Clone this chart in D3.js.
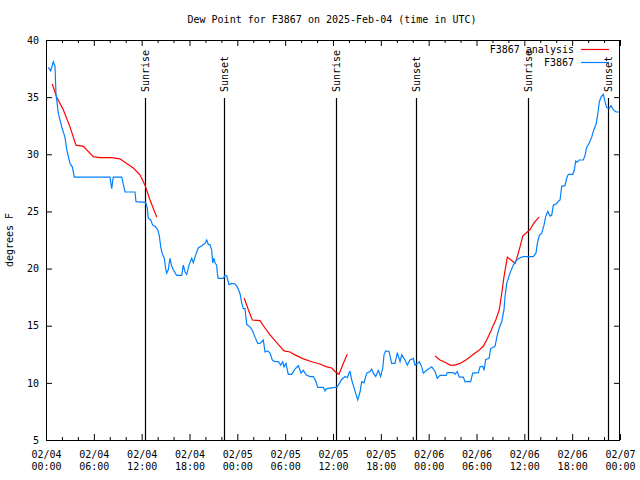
<!DOCTYPE html>
<html><head><meta charset="utf-8">
<script src="https://cdn.jsdelivr.net/npm/d3@7"></script>
<style>body{margin:0;background:#fff}svg{display:block}</style>
</head><body><svg id="c" width="640" height="480"></svg>
<script>
// hours after 2025-02-04 00:00 UTC
const obsHours = [0.29,0.59,0.92,1.13,1.25,1.54,1.97,2.38,2.6,3.01,3.3,3.55,4.26,5.52,6.77,8.03,8.24,8.44,9.5,9.91,11.16,11.29,12.5,12.71,12.83,13.13,13.38,13.67,14.01,14.21,14.39,14.59,14.84,15.01,15.14,15.34,15.55,15.77,15.97,16.39,17.02,17.22,17.44,17.65,17.94,18.28,18.48,18.78,19.1,19.53,19.94,20.16,20.36,20.57,20.79,20.91,21.07,21.2,21.41,21.49,21.61,22.24,22.45,22.67,22.96,23.29,23.71,24.0,24.34,24.55,24.75,24.96,25.18,25.59,25.88,26.22,26.56,26.84,27.26,27.47,27.81,28.1,28.39,28.73,29.14,29.44,29.69,29.85,30.1,30.39,30.82,31.23,31.65,31.99,32.28,32.61,33.12,33.53,33.87,34.08,34.78,34.99,35.21,36.25,36.47,36.67,37.09,37.51,37.8,38.05,38.14,38.35,38.63,38.97,39.1,39.39,39.6,39.89,40.23,40.64,40.86,41.06,41.36,41.68,41.98,42.24,42.4,42.61,43.03,43.36,43.78,44.07,44.41,44.62,45.03,45.32,45.66,46.07,46.29,46.58,46.83,47.13,47.33,47.75,48.38,48.8,49.08,49.42,50.18,50.34,51.09,51.3,51.59,51.84,52.35,52.56,53.27,53.52,54.23,54.44,54.78,54.94,55.16,55.57,55.78,56.32,56.61,56.86,57.16,57.45,57.58,57.79,58.2,58.62,59.04,59.46,59.87,60.62,61.13,61.46,61.63,61.88,62.18,62.47,62.68,62.93,63.22,63.43,63.64,64.06,64.26,64.48,64.69,65.1,65.31,65.52,66.07,66.27,66.44,66.64,66.86,67.4,67.61,67.82,68.11,68.45,68.74,68.99,69.15,69.28,69.41,69.62,69.91,70.12,70.33,70.62,70.87,71.16,71.5,71.91];
const obsDew = [37.6,37.3,38.1,37.7,35.3,33.6,32.4,31.5,30.4,29.2,28.9,28.0,28.0,28.0,28.0,28.0,27.0,28.0,28.0,26.7,26.7,25.85,25.8,25.3,24.4,24.25,23.8,23.7,23.4,22.9,21.9,21.3,20.9,20.0,19.6,19.9,20.9,20.2,19.9,19.4,19.4,20.3,19.7,19.5,20.3,20.9,20.5,21.2,21.8,22.0,22.2,22.5,22.1,22.1,21.6,20.5,20.9,20.5,20.3,19.6,19.15,19.15,19.4,19.35,18.6,18.7,18.65,18.4,17.8,17.0,16.5,16.5,15.1,14.9,14.6,14.0,13.45,13.45,13.75,12.7,12.8,12.6,12.0,11.85,11.85,11.55,11.85,11.4,11.7,10.75,10.75,11.2,11.5,10.85,11.1,10.7,10.55,10.55,10.1,9.6,9.6,9.3,9.5,9.6,9.6,9.8,10.3,10.55,10.45,10.95,11.0,10.25,9.6,8.8,8.5,9.2,10.1,10.0,10.85,11.0,11.2,10.85,10.55,11.1,10.55,11.3,12.45,12.8,12.75,11.7,11.7,12.65,11.85,12.45,12.0,11.55,12.0,12.15,11.55,11.7,11.85,11.4,10.85,11.1,11.4,11.0,10.4,10.65,10.65,10.9,10.9,10.75,11.0,10.5,10.5,10.1,10.1,10.85,10.9,11.4,11.45,11.1,12.05,12.15,13.0,13.2,14.2,14.8,15.35,16.4,17.55,18.7,19.6,20.3,20.75,20.95,21.05,21.05,21.05,21.35,22.2,22.9,23.1,23.8,24.55,25.0,24.6,24.65,25.55,25.7,25.9,26.0,27.2,27.25,27.9,28.25,28.25,28.6,29.4,29.3,29.5,29.5,29.9,30.6,30.95,31.5,32.2,32.6,33.2,33.9,34.6,35.0,35.25,34.6,34.1,34.0,34.25,33.9,33.7,33.7];
// analysis series; null breaks the line between runs
const anaHours = [0.79,1.34,2.17,3.01,3.76,4.68,5.93,6.77,8.24,9.28,10.12,10.95,11.79,12.42,13.05,13.89,null,24.87,25.38,25.88,26.84,27.47,28.1,28.73,29.35,29.85,30.61,31.23,32.28,33.33,34.37,35.21,35.84,36.25,36.75,37.29,37.79,null,48.8,49.42,50.05,50.68,51.3,51.93,52.77,53.6,54.23,54.85,55.28,55.78,56.11,56.41,56.86,57.16,57.45,57.87,58.42,58.83,59.12,59.46,59.8,60.3,60.71,61.21,61.84];
const anaDew = [36.15,35.0,33.9,32.4,30.8,30.7,29.8,29.7,29.7,29.6,29.2,28.8,28.2,27.3,26.0,24.5,null,17.4,16.4,15.5,15.45,14.8,14.2,13.7,13.2,12.8,12.7,12.45,12.1,11.85,11.65,11.4,11.3,11.0,10.75,11.7,12.5,null,12.35,12.0,11.8,11.55,11.55,11.7,12.05,12.5,12.8,13.2,13.75,14.5,15.05,15.5,16.4,17.8,19.3,21.0,20.7,20.45,21.05,21.9,22.85,23.15,23.4,24.0,24.5];
const sunLabels = ["Sunrise","Sunset","Sunrise","Sunset","Sunrise","Sunset"];
const sunHours = [12.46,22.37,36.41,46.41,60.5,70.53];
const yTicks = [5,10,15,20,25,30,35,40];
const seriesNames = ["F3867 analysis","F3867"];
const title = "Dew Point for F3867 on 2025-Feb-04 (time in UTC)";
const yLabel = "degrees F";

const T0 = Date.UTC(2025,1,4);
const toDate = h => new Date(T0 + h*3600e3);
const L=46,R=620,T=40,B=440;
const FONT = "'DejaVu Sans Mono', monospace";
const svg = d3.select("#c");
const x = d3.scaleUtc().domain([toDate(0),toDate(72)]).range([L,R]);
const y = d3.scaleLinear().domain([5,40]).range([B,T]);

const major = d3.range(0,73,6).map(toDate);
const minor = d3.range(0,73,2).filter(h=>h%6!==0).map(toDate);
const fmt = d3.utcFormat("%m/%d|%H:%M");

function styleAxis(g){ g.select(".domain").remove(); g.selectAll("line").attr("stroke","#000"); g.attr("font-family",FONT).attr("font-size",10); }

// bottom major ticks with labels
const gb = svg.append("g").attr("transform",`translate(0,${B})`)
  .call(d3.axisBottom(x).tickValues(major).tickSize(-6).tickPadding(8).tickFormat(fmt));
styleAxis(gb);
gb.selectAll("text").attr("fill","#000").each(function(d){
  const parts = fmt(d).split("|"); const t=d3.select(this); t.text(null);
  t.append("tspan").attr("x",0).attr("dy","0.71em").text(parts[0]);
  t.append("tspan").attr("x",0).attr("dy","1.2em").text(parts[1]);
}).attr("dy",null).attr("y",11);
styleAxis(svg.append("g").attr("transform",`translate(0,${B})`).call(d3.axisBottom(x).tickValues(minor).tickSize(-3).tickFormat("")));
styleAxis(svg.append("g").attr("transform",`translate(0,${T})`).call(d3.axisTop(x).tickValues(major).tickSize(-6).tickFormat("")));
styleAxis(svg.append("g").attr("transform",`translate(0,${T})`).call(d3.axisTop(x).tickValues(minor).tickSize(-3).tickFormat("")));
const gl = svg.append("g").attr("transform",`translate(${L},0)`).call(d3.axisLeft(y).tickValues(yTicks).tickSize(-6).tickPadding(7));
styleAxis(gl); gl.selectAll("text").attr("fill","#000");
styleAxis(svg.append("g").attr("transform",`translate(${R},0)`).call(d3.axisRight(y).tickValues(yTicks).tickSize(-6).tickFormat("")));

svg.append("rect").attr("x",L+0.5).attr("y",T+0.5).attr("width",R-L-1).attr("height",B-T).attr("fill","none").attr("stroke","#000");

// sunrise / sunset markers
sunHours.forEach((h,i)=>{
  const px = Math.round(x(toDate(h)))+0.5;
  svg.append("line").attr("x1",px).attr("x2",px).attr("y1",98).attr("y2",B).attr("stroke","#000").attr("stroke-width",1.2);
  svg.append("text").attr("transform",`translate(${px+3.5},92) rotate(-90)`).attr("font-family",FONT).attr("font-size",10).attr("text-anchor","start").text(sunLabels[i]);
});

// series
const obs = obsHours.map((h,i)=>({t:toDate(h),v:obsDew[i]}));
const ana = anaHours.map((h,i)=>({t:h==null?null:toDate(h),v:anaDew[i]}));
const line = d3.line().defined(d=>d.t!=null && d.v!=null).x(d=>x(d.t)).y(d=>y(d.v));
svg.append("path").datum(ana).attr("d",line).attr("fill","none").attr("stroke","#ff0000").attr("stroke-width",1.2);
svg.append("path").datum(obs).attr("d",line).attr("fill","none").attr("stroke","#0080ff").attr("stroke-width",1.2);

// legend
const colors = ["#ff0000","#0080ff"];
seriesNames.forEach((n,i)=>{
  const yy = 49.5 + i*13;
  svg.append("text").attr("x",574).attr("y",yy).attr("dy","0.35em").attr("text-anchor","end").attr("font-family",FONT).attr("font-size",10).text(n);
  svg.append("line").attr("x1",581).attr("x2",609).attr("y1",yy).attr("y2",yy).attr("stroke",colors[i]).attr("stroke-width",1.2);
});

svg.append("text").attr("x",332).attr("y",23).attr("text-anchor","middle").attr("font-family",FONT).attr("font-size",10).text(title);
svg.append("text").attr("transform","translate(13,240) rotate(-90)").attr("text-anchor","middle").attr("font-family",FONT).attr("font-size",10).text(yLabel);
</script></body></html>
